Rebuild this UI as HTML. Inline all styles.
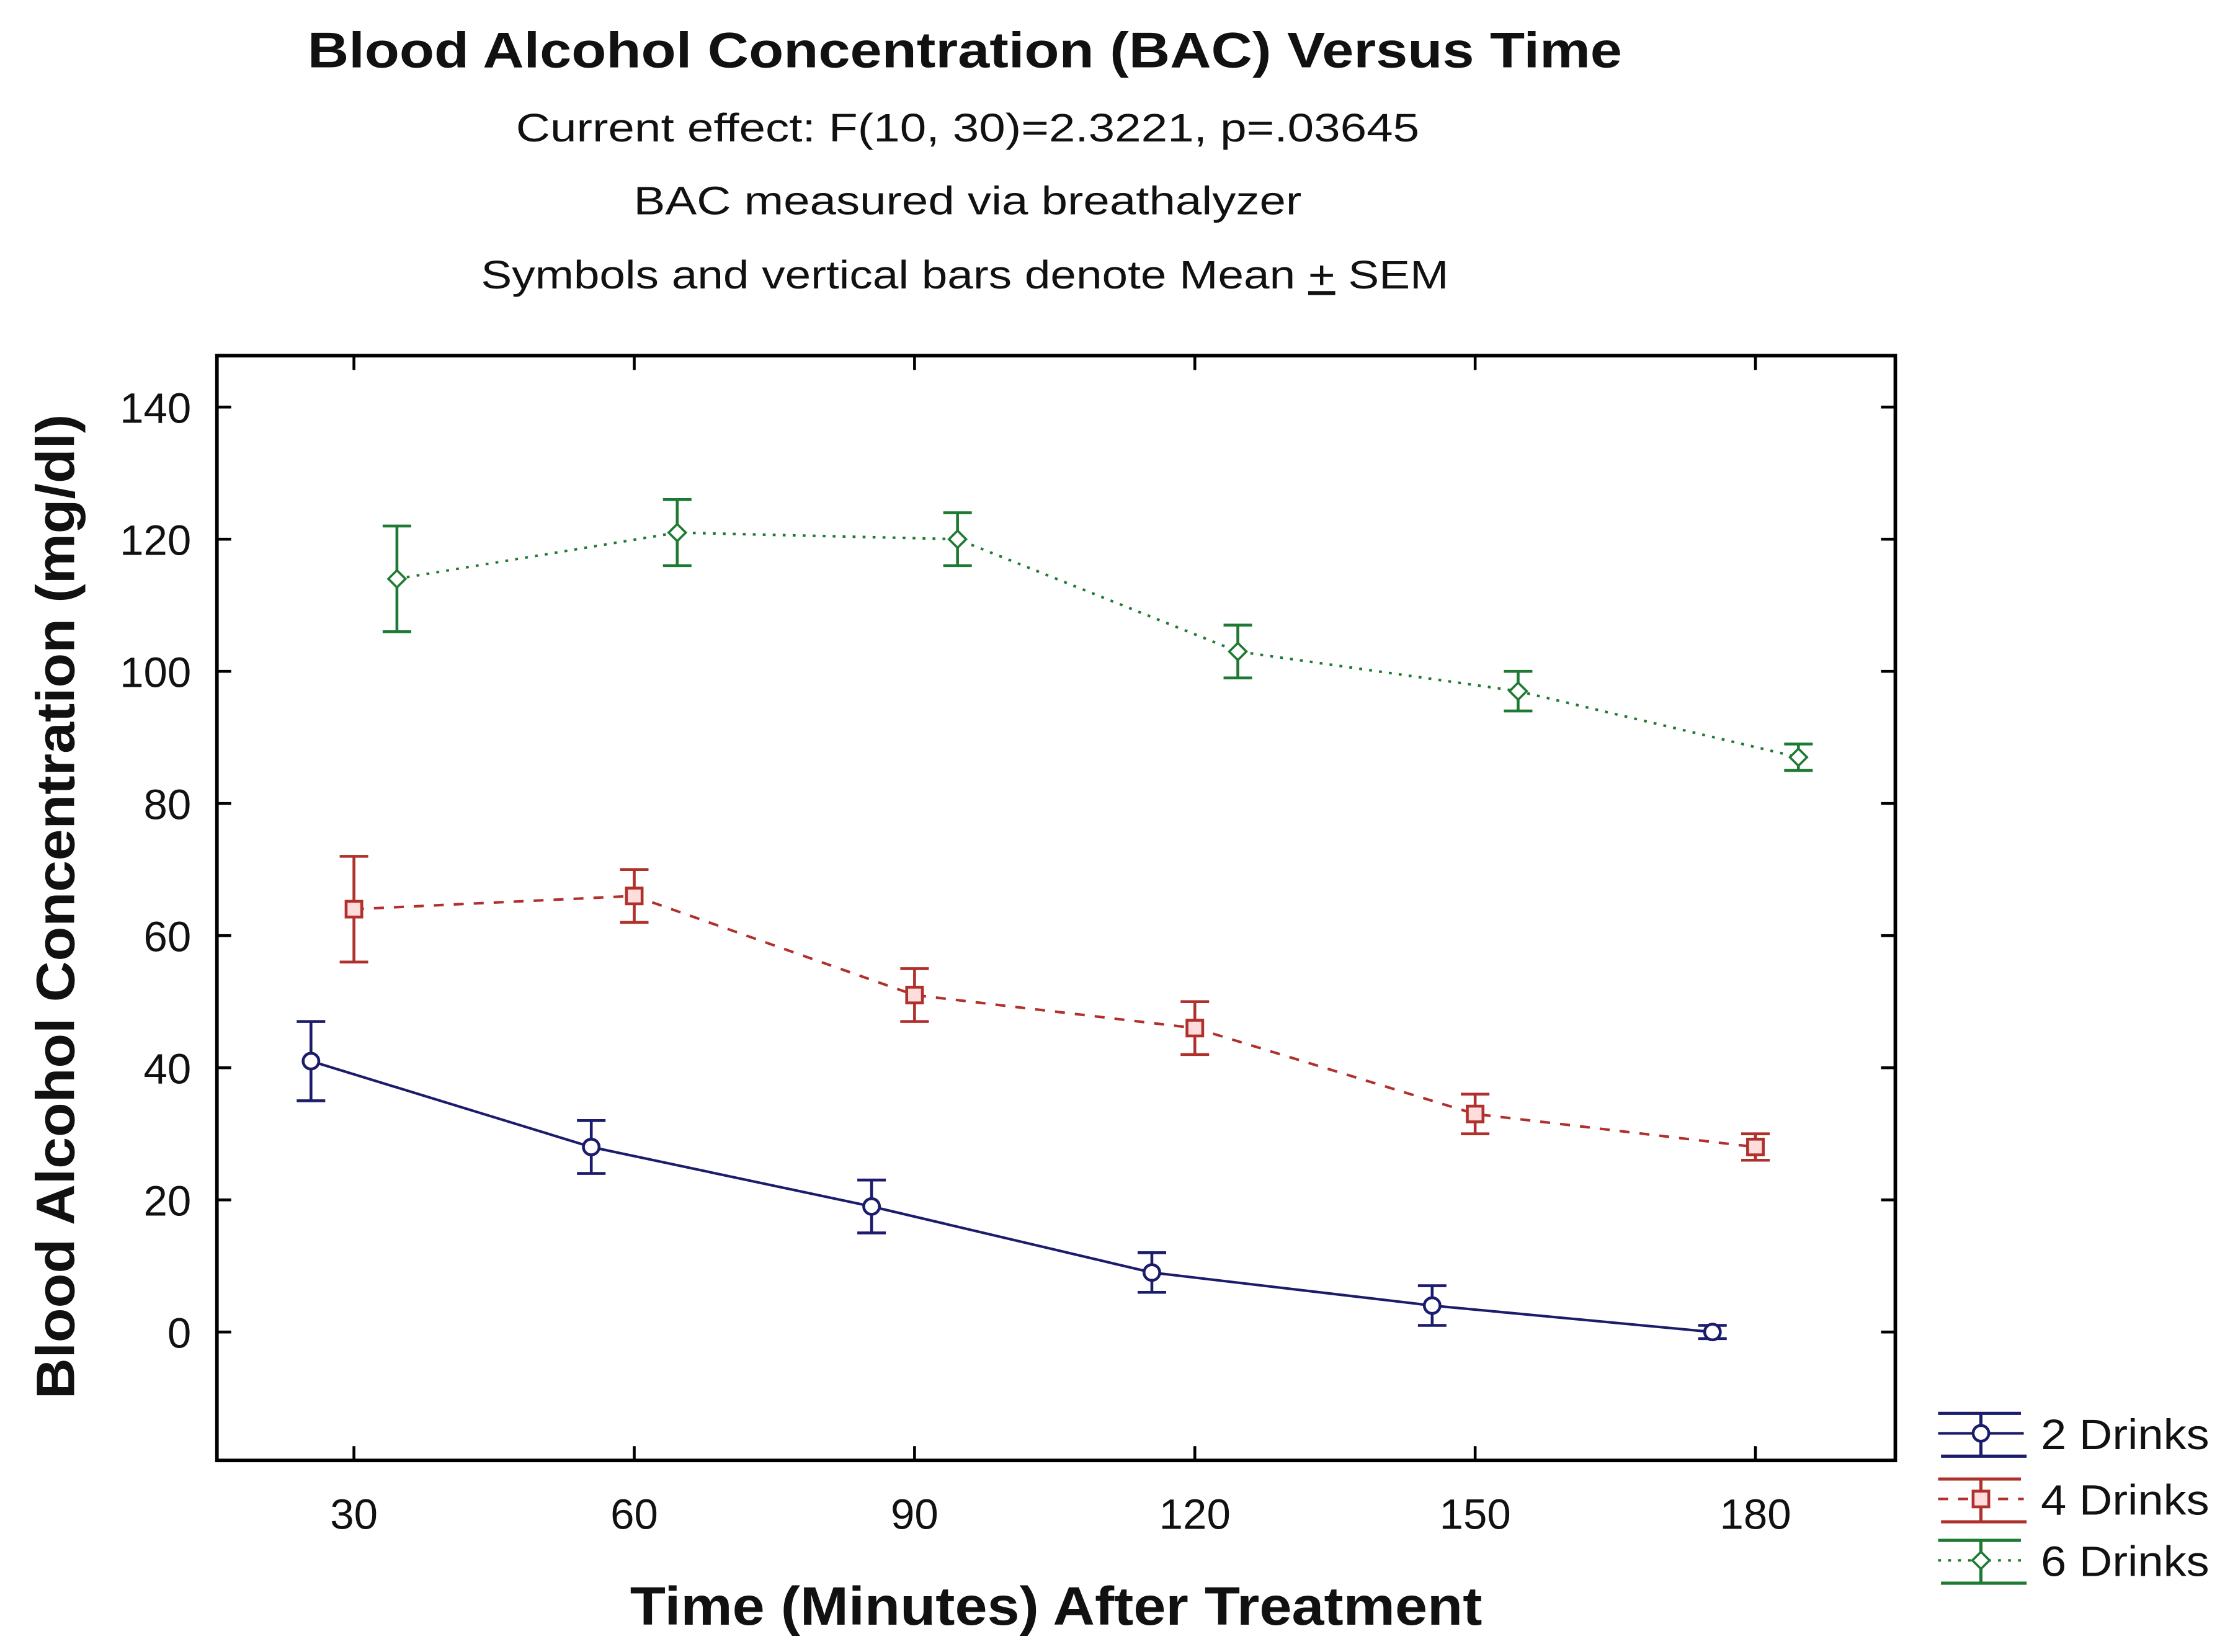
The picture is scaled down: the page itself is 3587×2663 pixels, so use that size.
<!DOCTYPE html>
<html><head><meta charset="utf-8"><style>
html,body{margin:0;padding:0;background:#fff;}
svg{display:block;font-family:"Liberation Sans",Arial,sans-serif;}
</style></head><body>
<svg id="chart" width="3587" height="2663" viewBox="0 0 1559 1157" xmlns="http://www.w3.org/2000/svg">
<rect width="1559" height="1157" fill="#fff"/>
<text x="676" y="47" text-anchor="middle" font-size="35" font-weight="bold" fill="#111" textLength="921" lengthAdjust="spacingAndGlyphs">Blood Alcohol Concentration (BAC) Versus Time</text>
<text x="678" y="99" text-anchor="middle" font-size="28" fill="#111" textLength="633" lengthAdjust="spacingAndGlyphs">Current effect: F(10, 30)=2.3221, p=.03645</text>
<text x="678" y="150" text-anchor="middle" font-size="28" fill="#111" textLength="468" lengthAdjust="spacingAndGlyphs">BAC measured via breathalyzer</text>
<text x="676" y="202" text-anchor="middle" font-size="28" fill="#111" textLength="678" lengthAdjust="spacingAndGlyphs">Symbols and vertical bars denote Mean <tspan text-decoration="underline">+</tspan> SEM</text>
<rect x="152" y="249" width="1176" height="774" fill="none" stroke="#000" stroke-width="2.5"/>
<g id="axes"></g>
<g id="series"></g>
<text x="740" y="1138" text-anchor="middle" font-size="38" font-weight="bold" fill="#111" textLength="597" lengthAdjust="spacingAndGlyphs">Time (Minutes) After Treatment</text>
<text transform="translate(52,635) rotate(-90)" text-anchor="middle" font-size="38" font-weight="bold" fill="#111" textLength="690" lengthAdjust="spacingAndGlyphs">Blood Alcohol Concentration (mg/dl)</text>
<g id="legend"></g>
</svg>
<script>
const timePoints = [30, 60, 90, 120, 150, 180];
const xTickLabels = ["30", "60", "90", "120", "150", "180"];
const yTickValues = [0, 20, 40, 60, 80, 100, 120, 140];
const seriesNames = ["2 Drinks", "4 Drinks", "6 Drinks"];
const drinks2Mean = [41, 28, 19, 9, 4, 0];
const drinks2Sem = [6, 4, 4, 3, 3, 1];
const drinks4Mean = [64, 66, 51, 46, 33, 28];
const drinks4Sem = [8, 4, 4, 4, 3, 2];
const drinks6Mean = [114, 121, 120, 103, 97, 87];
const drinks6Sem = [8, 5, 4, 4, 3, 2];

const NS = "http://www.w3.org/2000/svg";
const X0 = 248, XK = (1230 - 248) / 150;
const Y0 = 933, YK = (933 - 285) / 140;
const xs = t => X0 + (t - 30) * XK;
const ys = v => Y0 - v * YK;
function mk(tag, attrs, parent) {
  const e = document.createElementNS(NS, tag);
  for (const k in attrs) e.setAttribute(k, attrs[k]);
  parent.appendChild(e);
  return e;
}
const axes = document.getElementById('axes');
timePoints.forEach((t, i) => {
  const x = xs(t);
  const tb = mk('line', {x1: x, x2: x, y1: 1023, y2: 1013, stroke: '#000', 'stroke-width': 2}, axes);
  
  
  const tt = mk('line', {x1: x, x2: x, y1: 249, y2: 259, stroke: '#000', 'stroke-width': 2}, axes);
  
  
  const lb = mk('text', {x: x, y: 1071, 'text-anchor': 'middle', 'font-size': 30, fill: '#111'}, axes);
  lb.textContent = xTickLabels[i];
  
  
});
yTickValues.forEach(v => {
  const y = ys(v);
  const tl = mk('line', {x1: 152, x2: 162, y1: y, y2: y, stroke: '#000', 'stroke-width': 2}, axes);
  
  
  const tr = mk('line', {x1: 1328, x2: 1318, y1: y, y2: y, stroke: '#000', 'stroke-width': 2}, axes);
  
  
  const lb = mk('text', {x: 134, y: y + 11, 'text-anchor': 'end', 'font-size': 30, fill: '#111'}, axes);
  lb.textContent = String(v);
  
  
});

const cfg = [
  {mean: drinks2Mean, sem: drinks2Sem, color: '#1c1c6c', dash: '', off: -4.6, marker: 'circle', key: '2-drinks'},
  {mean: drinks4Mean, sem: drinks4Sem, color: '#b0302c', dash: '7 7', off: 0, marker: 'square', key: '4-drinks'},
  {mean: drinks6Mean, sem: drinks6Sem, color: '#1e7a32', dash: '2 5', off: 4.6, marker: 'diamond', key: '6-drinks'}
];
function marker(type, x, y, color, parent) {
  let e;
  if (type === 'circle') e = mk('circle', {cx: x, cy: y, r: 5.5, fill: '#fff', stroke: color, 'stroke-width': 2}, parent);
  else if (type === 'square') e = mk('rect', {x: x - 5.5, y: y - 5.5, width: 11, height: 11, fill: '#fdd', stroke: color, 'stroke-width': 2}, parent);
  else e = mk('polygon', {points: `${x},${y-6} ${x+6},${y} ${x},${y+6} ${x-6},${y}`, fill: '#fff', stroke: color, 'stroke-width': 1.6}, parent);
  return e;
}
const sg = document.getElementById('series');
cfg.forEach(c => {
  const g = mk('g', {}, sg);
  
  
  const pts = timePoints.map((t, i) => xs(t + c.off) + ',' + ys(c.mean[i])).join(' ');
  const pl = mk('polyline', {points: pts, fill: 'none', stroke: c.color, 'stroke-width': 1.8, 'stroke-dasharray': c.dash}, g);
  
  
  timePoints.forEach((t, i) => {
    const x = xs(t + c.off), yt = ys(c.mean[i] + c.sem[i]), yb = ys(c.mean[i] - c.sem[i]);
    const eb = mk('path', {d: `M${x},${yt}V${yb}M${x-10},${yt}H${x+10}M${x-10},${yb}H${x+10}`, stroke: c.color, 'stroke-width': 2, fill: 'none'}, g);
    
    
    const m = marker(c.marker, x, ys(c.mean[i]), c.color, g);
    
    
  });
});

const lg = document.getElementById('legend');
const legY = [1004, 1050, 1093];
cfg.forEach((c, i) => {
  const g = mk('g', {}, lg);
  
  
  const y = legY[i];
  mk('path', {d: `M1358,${y-14}H1416M1360,${y+16}H1420M1388,${y-14}V${y+16}`, stroke: c.color, 'stroke-width': 2.2, fill: 'none'}, g);
  mk('line', {x1: 1358, x2: 1418, y1: y, y2: y, stroke: c.color, 'stroke-width': 1.8, 'stroke-dasharray': c.dash}, g);
  marker(c.marker, 1388, y, c.color, g);
  const t = mk('text', {x: 1430, y: y + 11, 'font-size': 30, fill: '#111', textLength: 118, lengthAdjust: 'spacingAndGlyphs'}, g);
  t.textContent = seriesNames[i];
});
</script>
</body></html>
